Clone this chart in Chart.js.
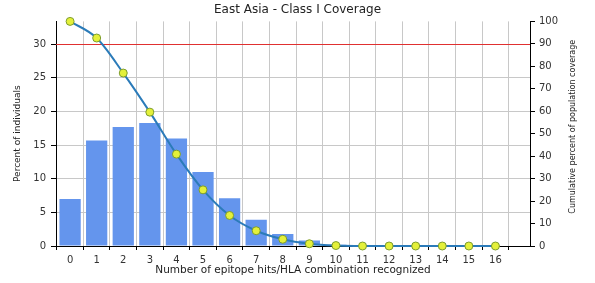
<!DOCTYPE html>
<html>
<head>
<meta charset="utf-8">
<script src="https://cdn.jsdelivr.net/npm/chart.js@4/dist/chart.umd.min.js"></script>
<style>
  html, body { margin: 0; padding: 0; background: #fff; }
  #wrap { width: 595px; height: 283px; }
</style>
</head>
<body>
<div id="wrap"><canvas id="chart"></canvas></div>
<script>
// values
const hits = [0, 1, 2, 3, 4, 5, 6, 7, 8, 9, 10, 11, 12, 13, 14, 15, 16];
const percentIndividuals = [7.0, 15.7, 17.7, 18.3, 16.0, 11.0, 7.1, 3.9, 1.8, 0.8, 0.2, 0, 0, 0, 0, 0, 0];
const cumulativeCoverage = [100, 92.6, 77.0, 59.6, 40.9, 25.0, 13.6, 6.8, 3.0, 1.0, 0.2, 0, 0, 0, 0, 0, 0];
const leftTicks = [0, 5, 10, 15, 20, 25, 30];
const rightTicks = [0, 10, 20, 30, 40, 50, 60, 70, 80, 90, 100];
const threshold = 30; // red line, left axis units

const titleText = 'East Asia - Class I Coverage';
const xTitle = 'Number of epitope hits/HLA combination recognized';
const leftTitle = 'Percent of individuals';
const rightTitle = 'Cumulative percent of population coverage';

const FONT = 'DejaVu Sans';

// red threshold line + right axis title (reads bottom to top)
const extras = {
  id: 'extras',
  beforeDatasetsDraw(chart) {
    const { ctx, chartArea, scales } = chart;
    const y = Math.round(scales.y.getPixelForValue(threshold)) + 0.5;
    ctx.save();
    ctx.strokeStyle = '#e03030';
    ctx.lineWidth = 1;
    ctx.beginPath();
    ctx.moveTo(chartArea.left, y);
    ctx.lineTo(chartArea.right, y);
    ctx.stroke();
    ctx.restore();
  },
  afterDraw(chart) {
    const { ctx, chartArea } = chart;
    ctx.save();
    ctx.translate(573, (chartArea.top + chartArea.bottom) / 2 - 7);
    ctx.rotate(-Math.PI / 2);
    ctx.font = '8px "' + FONT + '"';
    ctx.fillStyle = '#222';
    ctx.textAlign = 'center';
    ctx.textBaseline = 'middle';
    ctx.fillText(rightTitle, 0, 0);
    ctx.restore();
  }
};

new Chart(document.getElementById('chart'), {
  type: 'bar',
  data: {
    datasets: [
      {
        type: 'line',
        data: hits.map((h, i) => ({ x: h, y: cumulativeCoverage[i] })),
        yAxisID: 'y2',
        borderColor: '#2b7bb9',
        borderWidth: 2,
        cubicInterpolationMode: 'monotone',
        pointRadius: 4,
        pointBackgroundColor: '#e4f03a',
        pointBorderColor: '#7d9c2e',
        pointBorderWidth: 1,
        clip: false,
        order: 0
      },
      {
        data: hits.map((h, i) => ({ x: h, y: percentIndividuals[i] })),
        yAxisID: 'y',
        backgroundColor: '#6495ed',
        barPercentage: 0.8,
        categoryPercentage: 1,
        order: 1
      }
    ]
  },
  options: {
    responsive: true,
    maintainAspectRatio: false,
    animation: false,
    layout: { padding: 0 },
    plugins: {
      legend: { display: false },
      tooltip: { enabled: false },
      title: {
        display: true,
        text: titleText,
        color: '#222',
        font: { family: FONT, size: 12, weight: 'normal' },
        padding: { top: 3, bottom: 4 }
      }
    },
    scales: {
      x: {
        type: 'linear',
        offset: false,
        min: -0.53,
        max: 17.3,
        afterBuildTicks(s) { s.ticks = hits.map(v => ({ value: v })); },
        afterFit(s) { s.height = 37; },
        grid: { color: '#c8c8c8', tickColor: '#000', tickLength: 4 },
        border: { color: '#000' },
        ticks: { color: '#333', padding: 4, maxRotation: 0, font: { family: FONT, size: 10 } },
        title: {
          display: true,
          text: xTitle,
          color: '#222',
          font: { family: FONT, size: 10.5 },
          padding: { top: 0, bottom: 6.5 }
        }
      },
      y: {
        position: 'left',
        min: 0,
        max: 33.4,
        afterBuildTicks(s) { s.ticks = leftTicks.map(v => ({ value: v })); },
        afterFit(s) { s.width = 56; },
        grid: { color: '#c8c8c8', tickColor: '#000', tickLength: 5 },
        border: { color: '#000' },
        ticks: { color: '#333', padding: 5, font: { family: FONT, size: 10 } },
        title: {
          display: true,
          text: leftTitle,
          color: '#222',
          font: { family: FONT, size: 9 },
          padding: { top: 12, bottom: 0 }
        }
      },
      y2: {
        position: 'right',
        min: 0,
        max: 100,
        afterBuildTicks(s) { s.ticks = rightTicks.map(v => ({ value: v })); },
        afterFit(s) { s.width = 65; },
        grid: { drawOnChartArea: false, tickColor: '#000', tickLength: 5 },
        border: { color: '#000' },
        ticks: { color: '#333', padding: 4, font: { family: FONT, size: 10 } }
      }
    }
  },
  plugins: [extras]
});
</script>
</body>
</html>
